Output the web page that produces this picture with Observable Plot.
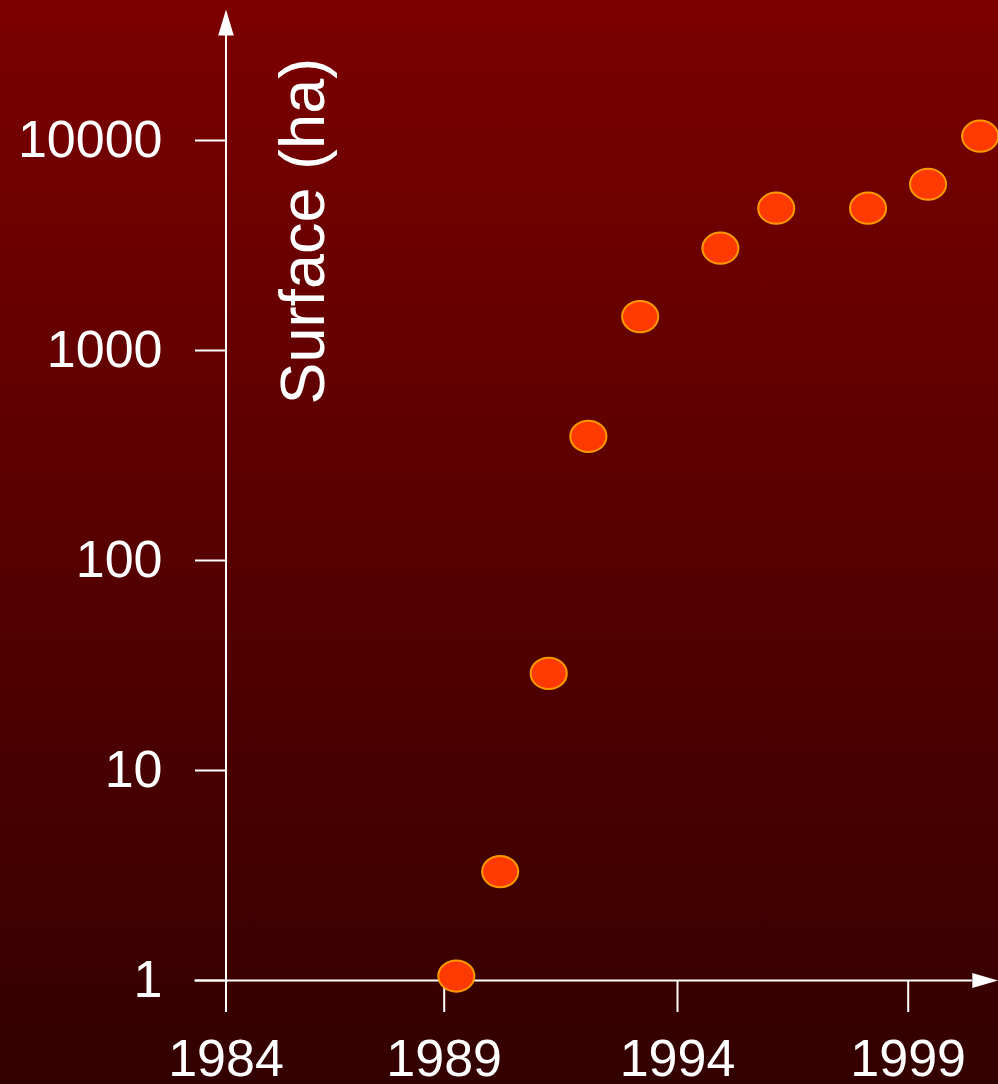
<!DOCTYPE html>
<html>
<head>
<meta charset="utf-8">
<script src="https://cdn.jsdelivr.net/npm/d3@7"></script>
<script src="https://cdn.jsdelivr.net/npm/@observablehq/plot@0.6"></script>
<style>
  html, body { margin: 0; padding: 0; }
  body {
    width: 998px; height: 1084px; overflow: hidden;
    background: linear-gradient(to bottom, #7c0000 0%, #330000 100%);
    font-family: "Liberation Sans", Arial, sans-serif;
  }
  svg { display: block; }
</style>
</head>
<body>
<div id="chart"></div>
<script>
// Data
const years   = [1989.26, 1990.2, 1991.24, 1992.09, 1993.2, 1994.93, 1996.14, 1998.13, 1999.43, 2000.56];
const surface = [1.05, 3.3, 29, 390, 1450, 3070, 4760, 4760, 6190, 10480];
const xTicks = [1984, 1989, 1994, 1999];
const yTicks = [1, 10, 100, 1000, 10000];
const yLabel = "Surface (ha)";

// axis extents (axes cross and end in arrow heads)
const xAxisStart = 1983.29, xAxisEnd = 2000.39;
const yAxisStart = 0.704, yAxisEnd = Math.pow(10, 4.5);

const data = years.map((year, i) => ({year, surface: surface[i]}));

const ellipse = {
  draw(ctx, size) {
    const r = Math.sqrt(size / Math.PI);
    const rx = r * 1.157, ry = r, k = 0.5523;
    ctx.moveTo(rx, 0);
    ctx.bezierCurveTo(rx, k * ry, k * rx, ry, 0, ry);
    ctx.bezierCurveTo(-k * rx, ry, -rx, k * ry, -rx, 0);
    ctx.bezierCurveTo(-rx, -k * ry, -k * rx, -ry, 0, -ry);
    ctx.bezierCurveTo(k * rx, -ry, rx, -k * ry, rx, 0);
    ctx.closePath();
  }
};
const arrowUp = {
  draw(ctx) {
    ctx.moveTo(0, -26); ctx.lineTo(7.8, 0); ctx.lineTo(-7.8, 0); ctx.closePath();
  }
};
const arrowRight = {
  draw(ctx) {
    ctx.moveTo(26, 0); ctx.lineTo(0, -7.6); ctx.lineTo(0, 7.6); ctx.closePath();
  }
};

const font = "Liberation Sans, Arial, sans-serif";

const chart = Plot.plot({
  width: 998,
  height: 1084,
  marginLeft: 226,
  marginRight: 90,
  marginTop: 140,
  marginBottom: 104,
  style: {background: "transparent", color: "white", fontFamily: font, overflow: "visible"},
  x: {type: "linear", domain: [1984, 1989, 1994, 1999], range: [225.5, 443.7, 677, 907.7]},
  y: {type: "log", domain: [1, 10000], range: [980, 140]},
  marks: [
    Plot.ruleY([1], {x1: xAxisStart, x2: xAxisEnd, stroke: "white", strokeWidth: 2}),
    Plot.ruleX([1984], {y1: yAxisStart, y2: yAxisEnd, stroke: "white", strokeWidth: 2}),
    Plot.dot([{x: 1984, y: yAxisEnd}], {x: "x", y: "y", symbol: arrowUp, r: 5, fill: "white", stroke: "none"}),
    Plot.dot([{x: xAxisEnd, y: 1}], {x: "x", y: "y", symbol: arrowRight, r: 5, fill: "white", stroke: "none"}),
    Plot.axisX({ticks: xTicks, tickFormat: d => String(d), tickSize: 32, tickPadding: 27,
      fontSize: 52, stroke: "white", strokeWidth: 2, fill: "white", label: null}),
    Plot.axisY({ticks: yTicks, tickFormat: d => String(d), tickSize: 31, tickPadding: 33,
      fontSize: 52, stroke: "white", strokeWidth: 2, fill: "white", label: null}),
    Plot.text([yLabel], {frameAnchor: "top-left", dx: 97.5, dy: 264, rotate: -90,
      textAnchor: "start", lineAnchor: "bottom", fontSize: 63, fill: "white", text: d => d}),
    Plot.dot(data, {x: "year", y: "surface", symbol: ellipse, r: 15.6,
      fill: "#ff3a00", stroke: "#ff9900", strokeWidth: 2})
  ]
});
document.getElementById("chart").appendChild(chart);
</script>
</body>
</html>
